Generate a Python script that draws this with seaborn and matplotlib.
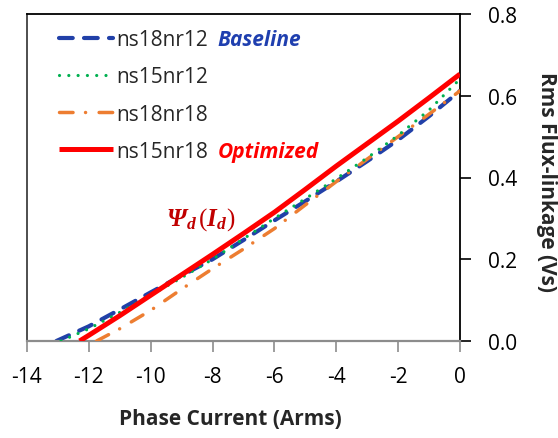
import numpy as np
import pandas as pd
import matplotlib
matplotlib.use("Agg")
import matplotlib.pyplot as plt
import seaborn as sns

# ---- data ----
x_ns18nr12 = [-13.05, -12, -11, -10, -9, -8, -7, -6, -5, -4, -3, -2, -1, 0]
y_ns18nr12 = [0.0, 0.036, 0.077, 0.119, 0.160, 0.200, 0.247, 0.295, 0.342, 0.390, 0.440, 0.492, 0.550, 0.612]

x_ns15nr12 = [-12.9, -12, -11, -10, -9, -8, -7, -6, -5, -4, -3, -2, -1, 0]
y_ns15nr12 = [0.0, 0.030, 0.070, 0.112, 0.155, 0.200, 0.250, 0.300, 0.348, 0.397, 0.448, 0.503, 0.565, 0.641]

x_ns18nr18 = [-11.75, -11, -10, -9, -8, -7, -6, -5, -4, -3, -2, -1, 0]
y_ns18nr18 = [0.0, 0.030, 0.075, 0.127, 0.177, 0.225, 0.275, 0.333, 0.390, 0.445, 0.500, 0.555, 0.612]

x_ns15nr18 = [-12.3, -12, -11, -10, -9, -8, -7, -6, -5, -4, -3, -2, -1, 0]
y_ns15nr18 = [0.0, 0.014, 0.062, 0.112, 0.162, 0.212, 0.263, 0.315, 0.371, 0.428, 0.483, 0.538, 0.595, 0.653]

series_names = ["ns18nr12", "ns15nr12", "ns18nr18", "ns15nr18"]
x_ticks = [-14, -12, -10, -8, -6, -4, -2, 0]
y_ticks = [0.0, 0.2, 0.4, 0.6, 0.8]
x_label = "Phase Current (Arms)"
y_label = "Rms Flux-linkage (Vs)"

sns.set_style("white")
plt.rcParams["font.family"] = ["Open Sans", "DejaVu Sans"]
plt.rcParams["mathtext.fontset"] = "custom"
plt.rcParams["mathtext.rm"] = "Liberation Serif"
plt.rcParams["mathtext.it"] = "Liberation Serif:italic"
plt.rcParams["mathtext.bf"] = "Liberation Serif:italic:bold"

fig = plt.figure(figsize=(5.58, 4.39), dpi=100)
ax = fig.add_axes([27/558, (439-342)/439, (460-27)/558, (342-15)/439])

blue = "#2140A8"
green = "#00B050"
orange = "#ED7D31"
red = "#FF0000"

d1 = pd.DataFrame({"x": x_ns18nr12, "y": y_ns18nr12})
d2 = pd.DataFrame({"x": x_ns15nr12, "y": y_ns15nr12})
d3 = pd.DataFrame({"x": x_ns18nr18, "y": y_ns18nr18})
d4 = pd.DataFrame({"x": x_ns15nr18, "y": y_ns15nr18})

sns.lineplot(data=d1, x="x", y="y", ax=ax, color=blue, lw=3.0, label=series_names[0], zorder=2)
sns.lineplot(data=d3, x="x", y="y", ax=ax, color=orange, lw=2.5, label=series_names[2], zorder=3)
sns.lineplot(data=d2, x="x", y="y", ax=ax, color=green, lw=2.3, label=series_names[1], zorder=4)
sns.lineplot(data=d4, x="x", y="y", ax=ax, color=red, lw=3.6, label=series_names[3], zorder=5)

lines = ax.get_lines()
l_blue, l_orange, l_green, l_red = lines[0], lines[1], lines[2], lines[3]
l_blue.set_dashes([3.3, 2.7]); l_blue.set_dash_capstyle("round")
l_green.set_dashes([0.01, 2.9]); l_green.set_dash_capstyle("round")
l_orange.set_dashes([3.9, 3.6, 0.01, 3.9]); l_orange.set_dash_capstyle("round")
l_red.set_solid_capstyle("butt")
for ln in lines:
    ln.set_solid_joinstyle("round")

ax.set_xlim(-14, 0)
ax.set_ylim(0, 0.8)
ax.set_xticks(x_ticks)
ax.set_xticklabels([str(t) for t in x_ticks])
ax.set_yticks(y_ticks)
ax.set_yticklabels([f"{t:.1f}" for t in y_ticks])

ax.yaxis.tick_right()
ax.yaxis.set_label_position("right")
ax.tick_params(axis="y", which="both", direction="out", length=8, width=1.2, color="black",
               labelsize=15, pad=12, right=True, left=False, labelcolor="black")
ax.tick_params(axis="x", which="both", direction="out", length=8, width=1.2, color="#8C8C8C",
               labelsize=15, pad=10, bottom=True, labelcolor="black")

for s in ["top", "right"]:
    ax.spines[s].set_color("black"); ax.spines[s].set_linewidth(1.3)
ax.spines["left"].set_color("#404040"); ax.spines["left"].set_linewidth(1.3)
ax.spines["bottom"].set_color("#8C8C8C"); ax.spines["bottom"].set_linewidth(1.6)

ax.set_xlabel(x_label, fontsize=15, fontweight="bold")
ax.set_ylabel(y_label, fontsize=15, fontweight="bold", rotation=270, labelpad=0)
ax.xaxis.set_label_coords(0.47, -0.205)
ax.yaxis.set_label_coords(1.225, 0.49)

handles, labels = ax.get_legend_handles_labels()
order = [labels.index(n) for n in series_names]
leg = ax.legend([handles[i] for i in order], [labels[i] for i in order],
                loc="upper left", bbox_to_anchor=(0.035, 1.005), frameon=False,
                fontsize=15, handlelength=2.6, handletextpad=0.15, labelspacing=0.78,
                borderpad=0.3)

fig.canvas.draw()
renderer = fig.canvas.get_renderer()
inv = ax.transAxes.inverted()
texts = leg.get_texts()
for txt, word, col in [(texts[0], "Baseline", "#1F3FAF"), (texts[3], "Optimized", red)]:
    bb = txt.get_window_extent(renderer)
    x0, y0 = inv.transform((bb.x1, (bb.y0 + bb.y1) / 2))
    ax.text(x0 + 0.022, y0, word, transform=ax.transAxes, fontsize=15,
            fontweight="bold", style="italic", color=col, va="center", ha="left")

ax.text(-9.5, 0.30, r"$\mathbf{\Psi_d}\,\mathrm{(}\mathbf{I_d}\mathrm{)}$",
        fontsize=18, color="#C00000", ha="left", va="center")

fig.savefig("out.png", dpi=100)
